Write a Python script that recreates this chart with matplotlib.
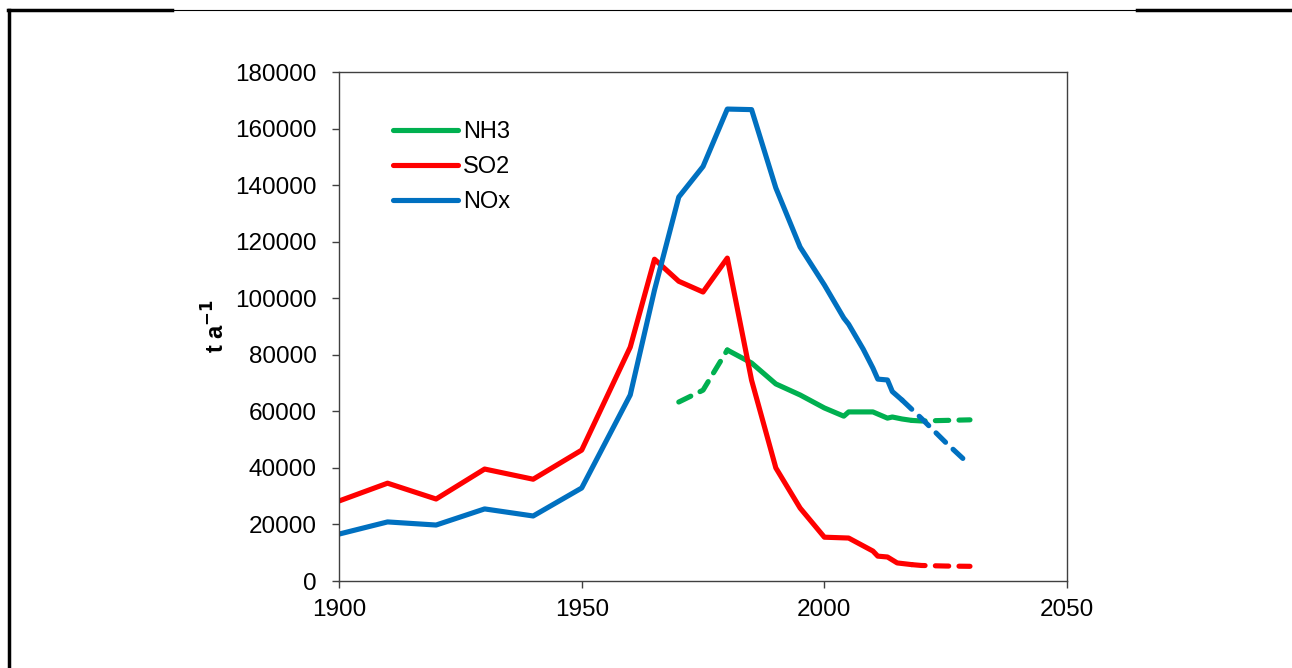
import matplotlib.pyplot as plt
from matplotlib.lines import Line2D

plt.rcParams["font.family"] = ["Liberation Sans", "DejaVu Sans"]

# emissions, t a-1
so2_years = [1900, 1910, 1920, 1930, 1940, 1950, 1960, 1965, 1970, 1975, 1980, 1985,
             1990, 1995, 2000, 2005, 2010, 2011, 2013, 2015, 2017, 2018]
so2_vals = [28300, 34600, 29000, 39600, 36000, 46300, 82700, 113800, 106000, 102200,
            114200, 71000, 40000, 25800, 15500, 15200, 10600, 8800, 8500, 6400, 6000, 5800]
so2_proj_years = [2018, 2020, 2025, 2030]
so2_proj_vals = [5800, 5500, 5300, 5200]

nox_years = [1900, 1910, 1920, 1930, 1940, 1950, 1960, 1965, 1970, 1975, 1980, 1985,
             1990, 1995, 2000, 2004, 2005, 2008, 2010, 2011, 2013, 2014, 2016]
nox_vals = [16600, 20900, 19800, 25500, 23000, 32900, 65800, 102900, 135800, 146600,
            166900, 166700, 139000, 118100, 104700, 93000, 90800, 82000, 75300, 71400,
            71100, 67000, 64000]
nox_proj_years = [2016, 2020, 2025, 2030]
nox_proj_vals = [64000, 57500, 49000, 41000]

nh3_hist_years = [1970, 1975, 1980]
nh3_hist_vals = [63300, 67500, 81700]
nh3_years = [1980, 1985, 1990, 1995, 2000, 2004, 2005, 2010, 2013, 2014, 2016, 2018]
nh3_vals = [81700, 77100, 69700, 65800, 61200, 58300, 59800, 59800, 57600, 58000, 57300, 56800]
nh3_proj_years = [2018, 2020, 2025, 2030]
nh3_proj_vals = [56800, 56600, 56800, 57000]

GREEN = "#00B050"
RED = "#FF0000"
BLUE = "#0070C0"
LW = 3.7

fig = plt.figure(figsize=(12.92, 6.68), dpi=100)
ax = fig.add_axes([0.2624, 0.1302, 0.5635, 0.7620])

dash = dict(lw=LW, linestyle=(0, (2.6, 2.0)), dash_capstyle="round",
            solid_capstyle="round")
ax.plot(nh3_hist_years, nh3_hist_vals, color=GREEN, **dash)
ax.plot(nh3_years, nh3_vals, color=GREEN, lw=LW, solid_capstyle="round", label="NH3")
ax.plot(nh3_proj_years, nh3_proj_vals, color=GREEN, **dash)
ax.plot(so2_years, so2_vals, color=RED, lw=LW, solid_capstyle="round", label="SO2")
ax.plot(so2_proj_years, so2_proj_vals, color=RED, **dash)
ax.plot(nox_years, nox_vals, color=BLUE, lw=LW, solid_capstyle="round", label="NOx")
ax.plot(nox_proj_years, nox_proj_vals, color=BLUE, **dash)

ax.set_xlim(1900, 2050)
ax.set_ylim(0, 180000)
ax.set_xticks(range(1900, 2051, 50))
ax.set_yticks(range(0, 180001, 20000))
for s in ax.spines.values():
    s.set_color("#404040")
    s.set_linewidth(1.0)
ax.tick_params(axis="both", direction="out", length=5, width=1.0, color="#404040",
               labelsize=17.5)
ax.tick_params(axis="y", pad=11)
ax.tick_params(axis="x", pad=8)
ax.set_ylabel("t a$^{\\mathbf{-1}}$", fontsize=17, fontweight="bold", labelpad=4)

leg = ax.legend(loc="upper left", bbox_to_anchor=(0.045, 0.945), frameon=False,
                fontsize=17, handlelength=2.75, handletextpad=0.2, labelspacing=0.55)
for h in leg.get_lines():
    h.set_solid_capstyle("round")

# page frame around the chart
fig.add_artist(Line2D([8 / 1292, 172 / 1292], [1 - 10 / 668] * 2, color="black", lw=2.5))
fig.add_artist(Line2D([172 / 1292, 1137 / 1292], [1 - 10 / 668] * 2, color="black", lw=0.8))
fig.add_artist(Line2D([1137 / 1292, 1.0], [1 - 10 / 668] * 2, color="black", lw=2.5))
fig.add_artist(Line2D([9 / 1292] * 2, [0.0, 1 - 10 / 668], color="black", lw=2.5))

fig.savefig("out.png", dpi=100)
